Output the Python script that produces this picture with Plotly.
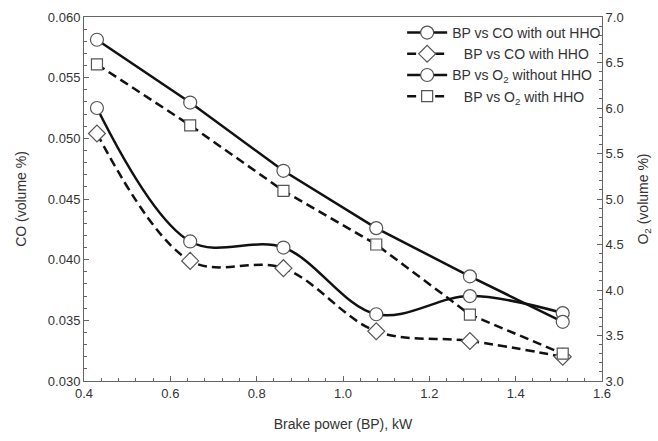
import plotly.graph_objects as go

bp = [0.43, 0.646, 0.862, 1.077, 1.294, 1.509]
co_without = [0.0525, 0.0415, 0.0410, 0.0355, 0.0370, 0.0356]
co_with = [0.0504, 0.0399, 0.0393, 0.0341, 0.0333, 0.0320]
o2_without = [6.75, 6.06, 5.31, 4.68, 4.15, 3.65]
o2_with = [6.48, 5.81, 5.09, 4.50, 3.73, 3.30]

LINE = "#111111"
MK = dict(color="white", size=13, line=dict(color="#555555", width=1.2))

fig = go.Figure()
fig.add_trace(go.Scatter(x=bp, y=co_without, name="BP vs CO with out HHO",
                         mode="lines+markers", line=dict(color=LINE, width=2.5, shape="spline", smoothing=1),
                         marker=dict(symbol="circle", **MK)))
fig.add_trace(go.Scatter(x=bp, y=co_with, name="   BP vs CO with HHO",
                         mode="lines+markers", line=dict(color=LINE, width=2.5, dash="9px,5px", shape="spline", smoothing=1),
                         marker=dict(symbol="diamond", **{**MK, "size": 13})))
fig.add_trace(go.Scatter(x=bp, y=o2_without, name="BP vs O<sub>2</sub> without HHO", yaxis="y2",
                         mode="lines+markers", line=dict(color=LINE, width=2.5),
                         marker=dict(symbol="circle", **MK)))
fig.add_trace(go.Scatter(x=bp, y=o2_with, name="   BP vs O<sub>2</sub> with HHO", yaxis="y2",
                         mode="lines+markers", line=dict(color=LINE, width=2.5, dash="9px,5px"),
                         marker=dict(symbol="square", **{**MK, "size": 11})))

axcol = "#666666"
fig.update_layout(
    width=658, height=441,
    margin=dict(l=84, r=56, t=17, b=60),
    paper_bgcolor="white", plot_bgcolor="white",
    font=dict(family="Liberation Sans, Arial, sans-serif", color="#333333", size=13),
    showlegend=True,
    legend=dict(x=1.008, xanchor="right", y=1.0, yanchor="top", bgcolor="rgba(0,0,0,0)",
                font=dict(size=14), itemwidth=40, tracegroupgap=0),
    xaxis=dict(range=[0.4, 1.6], dtick=0.2, tickformat=".1f", ticks="inside", ticklen=5,
               tickcolor=axcol, showline=True, linecolor=axcol, linewidth=1, mirror=True,
               showgrid=False, zeroline=False, automargin=False,
               minor=dict(ticks="inside", dtick=0.04, ticklen=3, tickcolor=axcol),
               title=dict(text="Brake power (BP), kW", font=dict(size=14), standoff=19)),
    yaxis=dict(range=[0.030, 0.060], dtick=0.005, tickformat=".3f", ticks="inside", ticklen=5,
               tickcolor=axcol, showline=True, linecolor=axcol, linewidth=1,
               showgrid=False, zeroline=False, automargin=False,
               minor=dict(ticks="inside", dtick=0.001, ticklen=3, tickcolor=axcol),
               title=dict(text="CO (volume %)", font=dict(size=14), standoff=17)),
    yaxis2=dict(range=[3.0, 7.0], dtick=0.5, tickformat=".1f", ticks="inside", ticklen=5,
                overlaying="y", side="right",
                tickcolor=axcol, showline=True, linecolor=axcol, linewidth=1,
                showgrid=False, zeroline=False, automargin=False,
                minor=dict(ticks="inside", dtick=0.1, ticklen=3, tickcolor=axcol),
                title=dict(text="O<sub>2</sub> (volume %)", font=dict(size=14), standoff=15)),
)

fig.write_html("out.html")
